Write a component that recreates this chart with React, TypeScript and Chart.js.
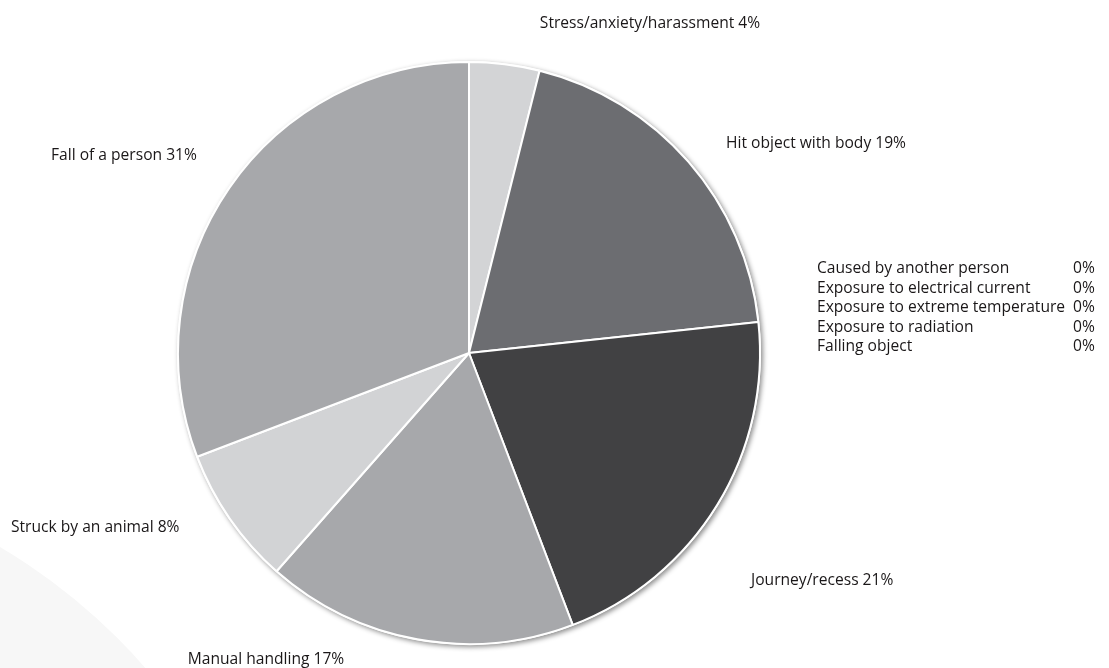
import React, { useEffect, useRef } from "react";
import { Chart, registerables } from "chart.js";

Chart.register(...registerables);

const categories = [
  "Stress/anxiety/harassment",
  "Hit object with body",
  "Caused by another person",
  "Exposure to electrical current",
  "Exposure to extreme temperature",
  "Exposure to radiation",
  "Falling object",
  "Journey/recess",
  "Manual handling",
  "Struck by an animal",
  "Fall of a person",
];
const values = [3.9, 19.4, 0, 0, 0, 0, 0, 20.9, 17.3, 7.7, 30.8];
const colors = [
  "#d3d4d6", "#6c6d71", "#8a8b8e", "#8a8b8e", "#8a8b8e", "#8a8b8e", "#8a8b8e",
  "#414143", "#a7a8ab", "#d2d3d5", "#a7a8ab",
];

// label layout: offsets from pie centre in px
const labelLayout: Record<number, { dx: number; dy: number; align: CanvasTextAlign }> = {
  0: { dx: 181, dy: -329, align: "center" },
  1: { dx: 257, dy: -209, align: "left" },
  7: { dx: 282, dy: 228, align: "left" },
  8: { dx: -203, dy: 307, align: "center" },
  9: { dx: -458, dy: 175, align: "left" },
  10: { dx: -418, dy: -197, align: "left" },
};
const zeroBlock = { nameDx: 348, pctDx: 604, dy: -84, step: 19.5 };
const FONT = "15.6px 'Open Sans', 'Noto Sans', sans-serif";

const labelPlugin = {
  id: "customLabels",
  beforeDraw(chart: any) {
    const ctx = chart.ctx;
    ctx.save();
    ctx.fillStyle = "#f7f7f7";
    ctx.beginPath();
    ctx.arc(-300, 1055, 590, 0, Math.PI * 2);
    ctx.fill();
    ctx.restore();
  },
  beforeDatasetsDraw(chart: any) {
    const meta = chart.getDatasetMeta(0);
    const arc = meta.data[0];
    if (!arc) return;
    const ctx = chart.ctx;
    ctx.save();
    ctx.shadowColor = "rgba(0,0,0,0.45)";
    ctx.shadowBlur = 5;
    ctx.shadowOffsetX = 2;
    ctx.shadowOffsetY = 2;
    ctx.fillStyle = "#ffffff";
    ctx.beginPath();
    ctx.arc(arc.x, arc.y, arc.outerRadius + 1, 0, Math.PI * 2);
    ctx.fill();
    ctx.restore();
  },
  afterDatasetsDraw(chart: any) {
    const meta = chart.getDatasetMeta(0);
    const arc0 = meta.data[0];
    if (!arc0) return;
    const cx = arc0.x;
    const cy = arc0.y;
    const ctx = chart.ctx;
    ctx.save();
    ctx.font = FONT;
    ctx.fillStyle = "#1a1718";
    ctx.textBaseline = "middle";
    let zi = 0;
    values.forEach((v, i) => {
      const text = `${Math.round(v)}%`;
      if (v === 0) {
        const y = cy + zeroBlock.dy + zi * zeroBlock.step;
        ctx.textAlign = "left";
        ctx.fillText(categories[i], cx + zeroBlock.nameDx, y);
        ctx.fillText(text, cx + zeroBlock.pctDx, y);
        zi++;
      } else {
        const l = labelLayout[i];
        ctx.textAlign = l.align;
        ctx.fillText(`${categories[i]} ${text}`, cx + l.dx, cy + l.dy);
      }
    });
    ctx.restore();
  },
};

export default function App() {
  const ref = useRef<HTMLCanvasElement | null>(null);
  useEffect(() => {
    if (!ref.current) return;
    const chart = new Chart(ref.current, {
      type: "pie",
      data: {
        labels: categories,
        datasets: [
          {
            data: values,
            backgroundColor: colors,
            borderColor: "#ffffff",
            borderWidth: 2,
          },
        ],
      },
      options: {
        animation: false,
        responsive: false,
        maintainAspectRatio: false,
        layout: { padding: { left: 177, right: 348, top: 61, bottom: 23 } },
        plugins: {
          legend: { display: false },
          tooltip: { enabled: false },
        },
      },
      plugins: [labelPlugin],
    });
    return () => chart.destroy();
  }, []);
  return (
    <div style={{ position: "fixed", left: 0, top: 0, width: 1109, height: 668, background: "#fff" }}>
      <canvas ref={ref} width={1109} height={668} />
    </div>
  );
}
